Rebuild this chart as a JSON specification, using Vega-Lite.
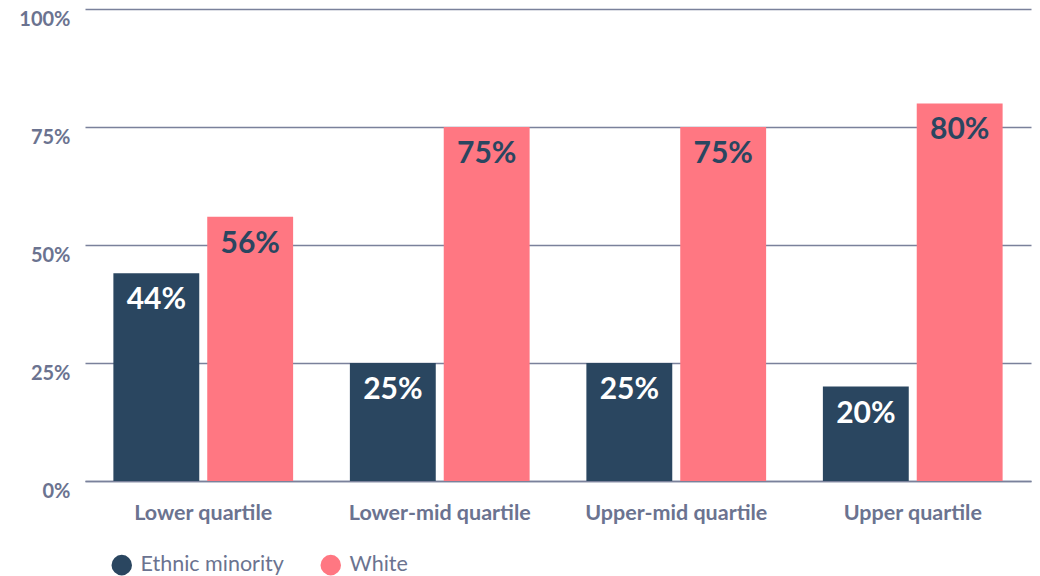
{
  "$schema": "https://vega.github.io/schema/vega-lite/v6.json",
  "width": 946,
  "height": 472,
  "autosize": {"type": "none"},
  "padding": {"left": 85, "top": 9, "right": 9, "bottom": 95},
  "background": "white",
  "config": {
    "view": {"stroke": null},
    "font": "Lato"
  },
  "data": {
    "values": [
      {"quartile": "Lower quartile", "group": "Ethnic minority", "share": 0.44},
      {"quartile": "Lower quartile", "group": "White", "share": 0.56},
      {"quartile": "Lower-mid quartile", "group": "Ethnic minority", "share": 0.25},
      {"quartile": "Lower-mid quartile", "group": "White", "share": 0.75},
      {"quartile": "Upper-mid quartile", "group": "Ethnic minority", "share": 0.25},
      {"quartile": "Upper-mid quartile", "group": "White", "share": 0.75},
      {"quartile": "Upper quartile", "group": "Ethnic minority", "share": 0.20},
      {"quartile": "Upper quartile", "group": "White", "share": 0.80}
    ]
  },
  "encoding": {
    "x": {
      "field": "quartile",
      "type": "nominal",
      "sort": ["Lower quartile", "Lower-mid quartile", "Upper-mid quartile", "Upper quartile"],
      "scale": {"paddingInner": 0.24, "paddingOuter": 0.12},
      "axis": {
        "title": null,
        "labelAngle": 0,
        "labelFont": "Lato",
        "labelFontWeight": "bold",
        "labelFontSize": 21.5,
        "labelColor": "#6b7390",
        "labelPadding": 21,
        "labelLimit": 400,
        "ticks": false,
        "domainColor": "#7a819b",
        "domainWidth": 1.5
      }
    },
    "xOffset": {
      "field": "group",
      "type": "nominal",
      "sort": ["Ethnic minority", "White"],
      "scale": {"paddingInner": 0.085, "paddingOuter": 0}
    },
    "y": {
      "field": "share",
      "type": "quantitative",
      "scale": {"domain": [0, 1]},
      "axis": {
        "title": null,
        "values": [0, 0.25, 0.5, 0.75, 1],
        "format": ".0%",
        "domain": false,
        "ticks": false,
        "labelFont": "Lato",
        "labelFontWeight": "bold",
        "labelFontSize": 20,
        "labelColor": "#6b7390",
        "labelPadding": 15,
        "labelBaseline": "top",
        "labelOffset": 0,
        "gridColor": "#7a819b",
        "gridWidth": 1.3
      }
    }
  },
  "layer": [
    {
      "mark": {"type": "bar"},
      "encoding": {
        "color": {
          "field": "group",
          "type": "nominal",
          "scale": {"domain": ["Ethnic minority", "White"], "range": ["#2a4660", "#ff7782"]},
          "legend": {
            "title": null,
            "orient": "none",
            "direction": "horizontal",
            "legendX": 26,
            "legendY": 545,
            "symbolType": "circle",
            "symbolSize": 420,
            "symbolStrokeWidth": 0,
            "labelFont": "Lato",
            "labelFontSize": 21.5,
            "labelColor": "#6b7390",
            "labelOffset": 8,
            "labelLimit": 400,
            "columnPadding": 36,
            "symbolOpacity": 1
          }
        }
      }
    },
    {
      "mark": {"type": "text", "baseline": "middle", "dy": 27, "fontSize": 30, "fontWeight": "bold", "font": "Lato"},
      "encoding": {
        "text": {"field": "share", "type": "quantitative", "format": ".0%"},
        "color": {
          "condition": {"test": "datum.group === 'Ethnic minority'", "value": "#ffffff"},
          "value": "#2a4660"
        }
      }
    }
  ]
}
